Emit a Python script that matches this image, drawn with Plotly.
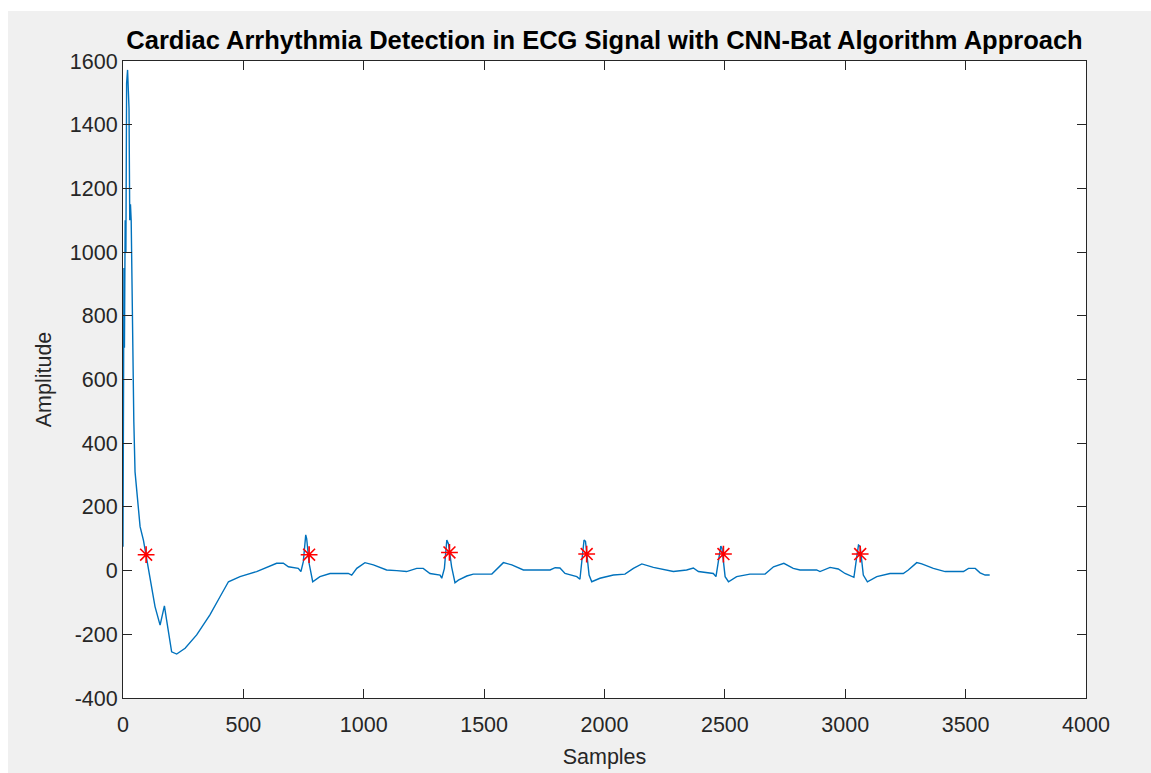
import plotly.graph_objects as go

# ECG signal (sample index, amplitude)
samples = [0, 2, 4, 6, 9, 12, 15, 19, 22, 25, 28, 31, 34, 38, 42, 45, 50, 60, 71, 85, 96,
           112, 133, 154, 172, 181, 202, 223, 258, 306, 361, 403, 438, 486, 555, 638, 666,
           687, 728, 739, 749, 759, 763, 773, 788, 818, 860, 936, 950, 971, 1005, 1040,
           1095, 1137, 1178, 1220, 1247, 1275, 1317, 1324, 1335, 1345, 1352, 1365, 1379,
           1393, 1428, 1455, 1532, 1580, 1615, 1663, 1774, 1795, 1815, 1836, 1885, 1898,
           1905, 1915, 1921, 1936, 1947, 1981, 2037, 2085, 2120, 2155, 2203, 2286, 2341,
           2369, 2390, 2452, 2463, 2473, 2483, 2488, 2501, 2515, 2549, 2604, 2667, 2702,
           2745, 2784, 2812, 2881, 2895, 2937, 2971, 2999, 3027, 3036, 3045, 3055, 3062,
           3075, 3092, 3131, 3186, 3241, 3262, 3297, 3318, 3366, 3415, 3491, 3512, 3540,
           3560, 3581, 3600]
amplitude = [75, 830, 950, 700, 1100, 1000, 1530, 1572, 1468, 1450, 1100, 1150, 1100, 830,
             700, 467, 310, 230, 138, 95, 50,
             -19, -113, -171, -111, -155, -255, -262, -244, -202, -139, -82, -35, -19, -3,
             23, 23, 12, 7, -3, 28, 112, 100, 23, -35, -19, -9, -9, -14, 7, 25, 18,
             2, 0, -3, 7, 7, -9, -14, -24, 7, 96, 84, 12, -38,
             -30, -17, -11, -11, 25, 18, 2, 2, 9, 8, -9, -19, -27,
             33, 96, 92, -14, -35, -24, -14, -11, 7, 21, 10, -3, 2,
             8, -3, -9, -19, 23, 77, 70, -19, -35, -19, -11, -11, 12,
             23, 7, 2, 2, -3, 10, 5, -9, -17, -21, 28, 80, 76,
             -14, -35, -19, -9, -9, 2, 25, 21, 7, -3, -3, 7, 7,
             -7, -14, -14]

# Detected R-peaks (red asterisks)
peak_samples = [96, 773, 1356, 1926, 2494, 3062]
peak_amplitude = [50, 50, 57, 52, 52, 52]

x_ticks = [0, 500, 1000, 1500, 2000, 2500, 3000, 3500, 4000]
y_ticks = [-400, -200, 0, 200, 400, 600, 800, 1000, 1200, 1400, 1600]

AX = "#262626"
FONT = "Liberation Sans, Arial, Helvetica, sans-serif"

fig = go.Figure()
fig.add_trace(go.Scatter(x=samples, y=amplitude, mode="lines",
                         line=dict(color="#0072BD", width=1.4), showlegend=False))
fig.add_trace(go.Scatter(x=peak_samples, y=peak_amplitude, mode="markers",
                         marker=dict(symbol="asterisk-open", size=14, color="#FF0000",
                                     line=dict(color="#FF0000", width=1.6)),
                         showlegend=False))

W, H = 1151, 773
L, R, T, B = 123, 65, 61, 75
PW, PH = W - L - R, H - T - B

# thin white strips at top and left of the grey figure area
fig.add_shape(type="rect", xref="paper", yref="paper", layer="below",
              x0=-L / PW, x1=(W - L) / PW, y0=(H - B - 11) / PH, y1=(H - B) / PH,
              fillcolor="white", line=dict(width=0))
fig.add_shape(type="rect", xref="paper", yref="paper", layer="below",
              x0=-L / PW, x1=(8 - L) / PW, y0=-B / PH, y1=(H - B) / PH,
              fillcolor="white", line=dict(width=0))

fig.update_layout(
    width=W, height=H,
    margin=dict(l=L, r=R, t=T, b=B, pad=0, autoexpand=False),
    paper_bgcolor="#F0F0F0", plot_bgcolor="white",
    font=dict(family=FONT, size=21, color=AX),
    title=dict(text="<b>Cardiac Arrhythmia Detection in ECG Signal with CNN-Bat Algorithm Approach</b>",
               x=(L + PW / 2) / W, xanchor="center",
               y=1 - 40 / H, yanchor="middle", yref="container",
               font=dict(family=FONT, size=25.5, color="#000000")),
    xaxis=dict(range=[0, 4000], tickvals=x_ticks, ticktext=[str(v) for v in x_ticks],
               ticks="inside", ticklen=9, tickcolor=AX, tickwidth=1,
               showline=True, linecolor=AX, linewidth=1, mirror="ticks",
               showgrid=False, zeroline=False, ticklabelstandoff=7, automargin=False,
               title=dict(text="Samples", font=dict(size=21.5, color=AX), standoff=13),
               tickfont=dict(size=21.5, color=AX)),
    yaxis=dict(range=[-400, 1600], tickvals=y_ticks, ticktext=[str(v) for v in y_ticks],
               ticks="inside", ticklen=9, tickcolor=AX, tickwidth=1,
               showline=True, linecolor=AX, linewidth=1, mirror="ticks",
               showgrid=False, zeroline=False, automargin=False,
               title=dict(text="Amplitude", font=dict(size=21.5, color=AX), standoff=12),
               tickfont=dict(size=21.5, color=AX)),
)

fig.write_html("out.html")
